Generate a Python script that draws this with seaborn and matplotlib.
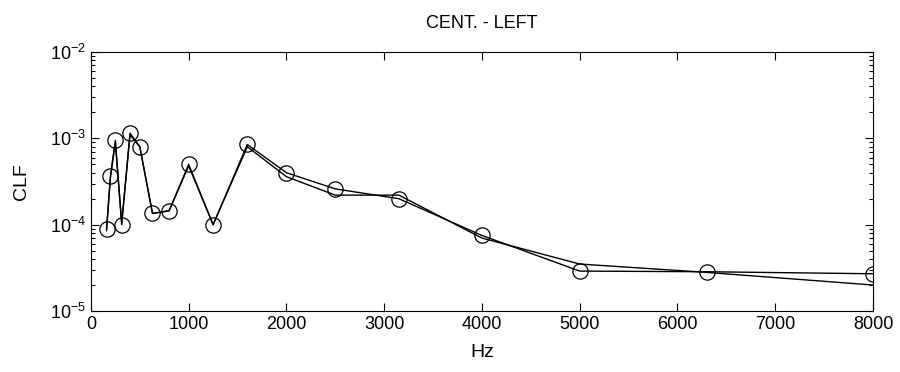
#!/usr/bin/env python
# CLF vs frequency, centre to left

import matplotlib.pyplot as plt
import numpy as np
import pandas as pd
import seaborn as sns
from matplotlib.ticker import FixedLocator, LogLocator, NullFormatter

freq = [160, 200, 250, 315, 400, 500, 630, 800, 1000, 1250, 1600,
        2000, 2500, 3150, 4000, 5000, 6300, 8000]
clf_measured = [9.0e-5, 3.7e-4, 9.5e-4, 1.0e-4, 1.15e-3, 8.0e-4, 1.35e-4,
                1.45e-4, 5.0e-4, 1.0e-4, 8.5e-4, 4.0e-4, 2.6e-4, 2.0e-4,
                7.5e-5, 2.9e-5, 2.85e-5, 2.7e-5]
clf_model = [8.5e-5, 3.5e-4, 9.0e-4, 1.05e-4, 1.1e-3, 8.0e-4, 1.35e-4,
             1.45e-4, 4.8e-4, 1.0e-4, 8.0e-4, 3.6e-4, 2.2e-4, 2.2e-4,
             7.0e-5, 3.5e-5, 2.8e-5, 2.0e-5]


def main():
    sns.set_style("ticks")
    plt.rcParams["font.family"] = ["Liberation Sans", "DejaVu Sans"]
    for key in ["text.color", "axes.labelcolor", "xtick.color", "ytick.color",
                "axes.edgecolor"]:
        plt.rcParams[key] = "black"

    df = pd.DataFrame({"Hz": freq, "measured": clf_measured, "model": clf_model})

    fig = plt.figure(figsize=(9, 3.72), dpi=100)
    ax = fig.add_axes([0.101, 0.164, 0.869, 0.696])

    sns.lineplot(data=df, x="Hz", y="model", ax=ax, color="black", lw=1)
    sns.lineplot(data=df, x="Hz", y="measured", ax=ax, color="black", lw=1,
                 marker="o", markersize=11, markerfacecolor="none",
                 markeredgecolor="black", markeredgewidth=0.9)

    ax.set_yscale("log")
    ax.set_xlim(0, 8000)
    ax.set_ylim(1e-5, 1e-2)
    ax.xaxis.set_major_locator(FixedLocator(np.arange(0, 8001, 1000)))
    ax.yaxis.set_major_locator(LogLocator(base=10, numticks=10))
    ax.yaxis.set_minor_locator(LogLocator(base=10, subs=np.arange(2, 10), numticks=10))
    ax.yaxis.set_minor_formatter(NullFormatter())
    ax.tick_params(which="both", direction="in", top=True, right=True,
                   labelsize=13, width=0.8)
    ax.tick_params(which="major", length=6)
    ax.tick_params(which="minor", length=3)
    for s in ax.spines.values():
        s.set_linewidth(0.8)

    ax.set_xlabel("Hz", fontsize=14, labelpad=8)
    ax.set_ylabel("CLF", fontsize=14, labelpad=14)
    ax.set_title("CENT. - LEFT", fontsize=13, pad=17)
    fig.savefig("out.png", dpi=100)
    plt.close(fig)


if __name__ == "__main__":
    main()
